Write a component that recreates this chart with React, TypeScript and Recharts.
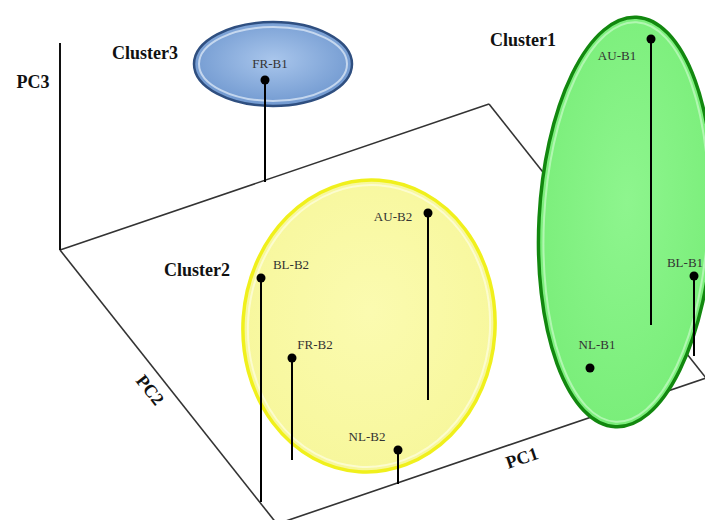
import React from "react";
import {
  ScatterChart,
  Scatter,
  XAxis,
  YAxis,
  ReferenceArea,
  ReferenceLine,
} from "recharts";

// picture units: x 0..705 left to right, y 0..520 top to bottom
const floorX = [60, 489, 706, 277];
const floorY = [250, 104, 378, 524];
const pc3AxisX = [60, 60];
const pc3AxisY = [43, 250];

const samples = ["AU-B1", "BL-B1", "NL-B1", "FR-B1", "AU-B2", "BL-B2", "FR-B2", "NL-B2"];
const sampleX = [651, 694, 590, 265, 428, 261, 292, 398];
const sampleY = [39, 276, 368, 80, 213, 278, 358, 450];
// where each drop line meets the PC1 x PC2 floor (null = no line)
const stemY = [325, 356, null, 182, 400, 502, 460, 484];

const clusters = ["Cluster1", "Cluster2", "Cluster3"];
const clusterX = [626, 369, 273];
const clusterY = [222, 326, 64];
const clusterRx = [87, 126, 79];
const clusterRy = [205, 146, 42];

const axisNames = ["PC1", "PC2", "PC3"];

const SERIF = "'Liberation Serif', 'Times New Roman', serif";

// label offsets from each point, in px
const sampleLabelOffset: Record<string, [number, number]> = {
  "AU-B1": [-34, 16],
  "BL-B1": [-9, -14],
  "NL-B1": [7, -24],
  "FR-B1": [5, -17],
  "AU-B2": [-35, 3],
  "BL-B2": [30, -14],
  "FR-B2": [23, -14],
  "NL-B2": [-31, -14],
};

const textSpots: Record<string, { x: number; y: number; rot: number }> = {
  Cluster1: { x: 523, y: 40, rot: 0 },
  Cluster2: { x: 197, y: 270, rot: 0 },
  Cluster3: { x: 145, y: 53, rot: 0 },
  PC1: { x: 522, y: 458, rot: -19 },
  PC2: { x: 150, y: 390, rot: 52 },
  PC3: { x: 33, y: 82, rot: 0 },
};

const clusterStyle: Record<string, any> = {
  Cluster1: { id: "g1", inner: "#8ef58e", outer: "#7aee7a", stroke: "#12880f", glow: "#c8fbc8", rot: 3, sw: 3.5 },
  Cluster2: { id: "g2", inner: "#fbfbb0", outer: "#f7f79c", stroke: "#f0f01c", glow: "#fefee4", rot: 4, sw: 3.5 },
  Cluster3: { id: "g3", inner: "#a9c6ec", outer: "#7199d0", stroke: "#2f4f80", glow: "#e4eefa", rot: 0, sw: 2.5 },
};

const dots = samples.map((name, i) => ({ name, x: sampleX[i], y: sampleY[i] }));
const texts = [...clusters, ...axisNames].map((name) => ({
  name,
  x: textSpots[name].x,
  y: textSpots[name].y,
}));

const floorEdges = floorX.map((x, i) => {
  const j = (i + 1) % floorX.length;
  return [
    { x, y: floorY[i] },
    { x: floorX[j], y: floorY[j] },
  ];
});

const ellipseShape = (name: string) => (p: any) => {
  const s = clusterStyle[name];
  const cx = p.x + p.width / 2;
  const cy = p.y + p.height / 2;
  const rx = Math.abs(p.width / 2);
  const ry = Math.abs(p.height / 2);
  return (
    <g transform={`rotate(${s.rot} ${cx} ${cy})`}>
      <defs>
        <radialGradient id={s.id} cx="50%" cy="45%" r="55%">
          <stop offset="0%" stopColor={s.inner} />
          <stop offset="100%" stopColor={s.outer} />
        </radialGradient>
      </defs>
      <ellipse cx={cx} cy={cy} rx={rx} ry={ry} fill={`url(#${s.id})`} stroke={s.stroke} strokeWidth={s.sw} />
      <ellipse cx={cx} cy={cy} rx={rx - 5} ry={ry - 5} fill="none" stroke={s.glow} strokeWidth={2} opacity={0.7} />
    </g>
  );
};

const DotShape = (p: any) => {
  const name = p.payload.name;
  const [dx, dy] = sampleLabelOffset[name];
  return (
    <g>
      <circle cx={p.cx} cy={p.cy} r={4.5} fill="#000" />
      <text
        x={p.cx + dx}
        y={p.cy + dy}
        textAnchor="middle"
        dominantBaseline="central"
        fontFamily={SERIF}
        fontSize={13}
        fill="#333"
      >
        {name}
      </text>
    </g>
  );
};

const TextShape = (p: any) => {
  const name = p.payload.name;
  const rot = textSpots[name].rot;
  return (
    <text
      x={p.cx}
      y={p.cy}
      transform={`rotate(${rot} ${p.cx} ${p.cy})`}
      textAnchor="middle"
      dominantBaseline="central"
      fontFamily={SERIF}
      fontSize={18}
      fontWeight="bold"
      fill="#111"
    >
      {name}
    </text>
  );
};

export default function App() {
  return (
    <div style={{ position: "absolute", left: 0, top: 0, background: "#fff" }}>
      <ScatterChart width={705} height={520} margin={{ top: 0, right: 0, bottom: 0, left: 0 }}>
        <XAxis type="number" dataKey="x" domain={[0, 705]} hide />
        <YAxis type="number" dataKey="y" domain={[0, 520]} reversed hide />
        {floorEdges.map((seg, i) => (
          <ReferenceLine key={`floor-${i}`} segment={seg} stroke="#333" strokeWidth={1.6} ifOverflow="visible" zIndex={10} />
        ))}
        <ReferenceLine
          segment={[
            { x: pc3AxisX[0], y: pc3AxisY[0] },
            { x: pc3AxisX[1], y: pc3AxisY[1] },
          ]}
          stroke="#111"
          strokeWidth={2}
          ifOverflow="visible"
          zIndex={10}
        />
        {clusters.map((c, i) => (
          <ReferenceArea
            key={c}
            x1={clusterX[i] - clusterRx[i]}
            x2={clusterX[i] + clusterRx[i]}
            y1={clusterY[i] - clusterRy[i]}
            y2={clusterY[i] + clusterRy[i]}
            ifOverflow="visible"
            shape={ellipseShape(c)}
            zIndex={20}
          />
        ))}
        {samples.map((s, i) =>
          stemY[i] == null ? null : (
            <ReferenceLine
              key={`stem-${s}`}
              segment={[
                { x: sampleX[i], y: sampleY[i] },
                { x: sampleX[i], y: stemY[i] as number },
              ]}
              stroke="#000"
              strokeWidth={2}
              ifOverflow="visible"
              zIndex={30}
            />
          )
        )}
        <Scatter data={dots} shape={DotShape} isAnimationActive={false} zIndex={40} />
        <Scatter data={texts} shape={TextShape} isAnimationActive={false} zIndex={40} />
      </ScatterChart>
    </div>
  );
}
